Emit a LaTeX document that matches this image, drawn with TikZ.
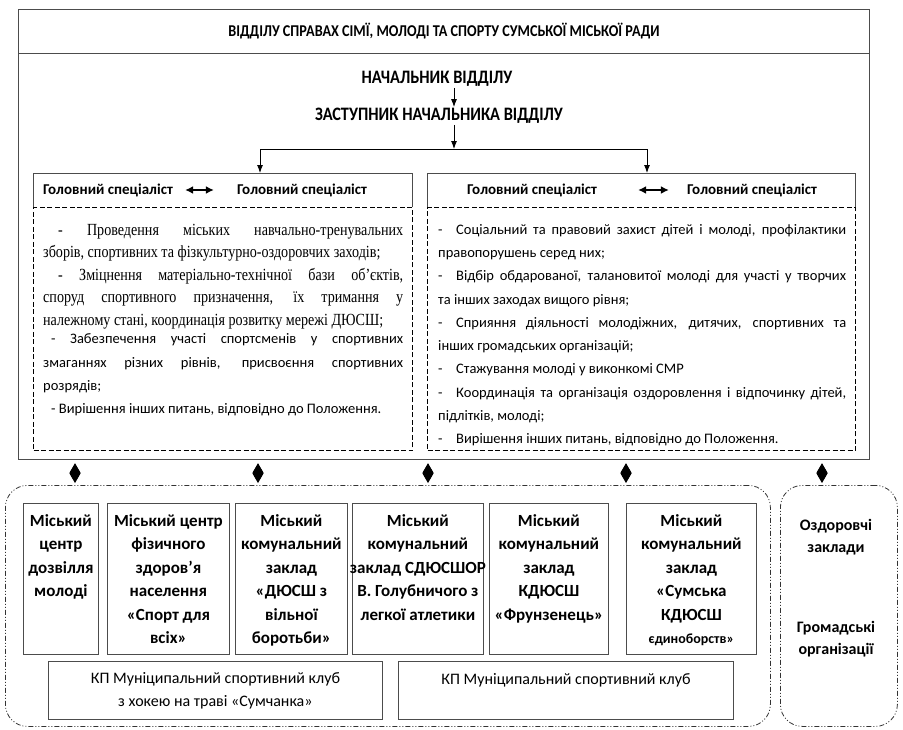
\documentclass[tikz,border=0pt]{standalone}
\usepackage{fontspec}
\setmainfont{Carlito}
\newfontfamily\tms[FakeStretch=0.83]{Liberation Serif}
\newfontfamily\calcond[FakeStretch=0.86]{Carlito}
\usetikzlibrary{positioning, arrows.meta}

\hyphenpenalty=10000
\exhyphenpenalty=10000
\newcommand{\itemdash}{\makebox[18pt][l]{-}}

\tikzset{
  box/.style={draw=black!70, line width=0.8pt, inner sep=0pt},
  dbox/.style={draw=black, line width=1pt, dash pattern=on 5pt off 2.5pt, anchor=north west, inner sep=0pt},
  ddbox/.style={draw=black!80, line width=0.8pt, dash pattern=on 5pt off 2pt on 1pt off 2pt on 1pt off 2pt,
    rounded corners=22pt, anchor=north west, inner sep=0pt},
  head/.style={font=\calcond\bfseries\fontsize{19}{22}\selectfont, inner sep=1pt},
  spec/.style={font=\bfseries\fontsize{15}{18}\selectfont, inner sep=0pt},
  unit/.style={box, anchor=north west, minimum height=151pt},
  unittext/.style={align=center, font=\bfseries\fontsize{17}{23.5}\selectfont, inner sep=0pt},
  bodytext/.style={anchor=north west, align=justify, inner sep=0pt, font=\fontsize{14.5}{23.3}\selectfont},
  dia/.style={arrows={Diamond[length=19pt,width=11pt]-Diamond[length=19pt,width=11pt]},
    line width=0.8pt, shorten <=3pt, shorten >=2pt},
  pair/.style={arrows={Latex[length=8pt,width=8pt]-Latex[length=8pt,width=8pt]}, line width=2pt},
}

\begin{document}
\begin{tikzpicture}[>={Latex[length=8pt,width=6pt]}, x=1pt, y=-1pt]
  \useasboundingbox (0,0) rectangle (903,729);

  % відділ
  \node[box, minimum width=851pt, minimum height=44pt, font=\calcond\bfseries\fontsize{16.5}{18}\selectfont]
    (title) at (444,31) {ВІДДІЛУ СПРАВАХ СІМЇ, МОЛОДІ ТА СПОРТУ СУМСЬКОЇ МІСЬКОЇ РАДИ};
  \node[box, anchor=north west, minimum width=851pt, minimum height=406pt] (dept) at (title.south west) {};

  \node[head] (chief) at (437,79) {НАЧАЛЬНИК ВІДДІЛУ};
  \node[head] (deputy) at (439,116) {ЗАСТУПНИК НАЧАЛЬНИКА ВІДДІЛУ};
  \coordinate (fork) at (454,149);
  \coordinate (forkl) at (260,149);
  \coordinate (forkr) at (647,149);
  \draw[->, line width=0.9pt] (chief.south -| fork) -- (deputy.north -| fork);
  \draw[->, line width=0.9pt] (deputy.south -| fork) -- (fork);
  \draw[line width=0.9pt] (forkl) -- (forkr);

  % ліва група
  \node[anchor=north west, minimum width=379pt, minimum height=34pt, inner sep=0pt] (lhead) at (33,173) {};
  \draw[box] (lhead.south west) |- (lhead.north east) -- (lhead.south east);
  \node[spec] (ls1) at (108,190) {Головний спеціаліст};
  \node[spec] (ls2) at (302,190) {Головний спеціаліст};
  \draw[pair] ([xshift=12pt]ls1.east) -- ([xshift=-23pt]ls2.west);
  \node[dbox, minimum width=379pt, minimum height=243pt] (lbody) at (lhead.south west) {};
  \node[bodytext, text width=360pt] (ltext) at (43,224) {%
    {\tms\fontsize{17}{22.5}\selectfont
    \hspace*{15pt}- Проведення міських навчально-тренувальних\linebreak
    зборів, спортивних та фізкультурно-оздоровчих заходів;\par
    \hspace*{15pt}- Зміцнення матеріально-технічної бази об’єктів,\linebreak
    споруд спортивного призначення, їх тримання у\linebreak
    належному стані, координація розвитку мережі ДЮСШ;\par}
    \vspace{-5pt}
    \hspace*{8pt}- Забезпечення участі спортсменів у спортивних\linebreak
    змаганнях різних рівнів, присвоєння спортивних\linebreak
    розрядів;\par
    \hspace*{8pt}- Вирішення інших питань, відповідно до Положення.};

  % права група
  \node[anchor=north west, minimum width=428pt, minimum height=34pt, inner sep=0pt] (rhead) at (427,173) {};
  \draw[box] (rhead.south west) |- (rhead.north east) -- (rhead.south east);
  \node[spec] (rs1) at (532,190) {Головний спеціаліст};
  \node[spec] (rs2) at (752,190) {Головний спеціаліст};
  \draw[pair] ([xshift=41pt]rs1.east) -- ([xshift=-18pt]rs2.west);
  \node[dbox, minimum width=428pt, minimum height=243pt] (rbody) at (rhead.south west) {};
  \node[bodytext, text width=408pt] (rtext) at (438,224) {%
    \itemdash Соціальний та правовий захист дітей і молоді, профілактики\linebreak
    правопорушень серед них;\par
    \itemdash Відбір обдарованої, талановитої молоді для участі у творчих\linebreak
    та інших заходах вищого рівня;\par
    \itemdash Сприяння діяльності молодіжних, дитячих, спортивних та\linebreak
    інших громадських організацій;\par
    \itemdash Стажування молоді у виконкомі СМР\par
    \itemdash Координація та організація оздоровлення і відпочинку дітей,\linebreak
    підлітків, молоді;\par
    \itemdash Вирішення інших питань, відповідно до Положення.};

  \draw[->, line width=0.9pt] (forkl) -- (forkl |- lhead.north);
  \draw[->, line width=0.9pt] (forkr) -- (forkr |- rhead.north);

  % підпорядковані заклади
  \node[ddbox, minimum width=765pt, minimum height=241pt] (inst) at (5,485) {};
  \node[ddbox, minimum width=117pt, minimum height=241pt] (other) at (780,485) {};
  \foreach \x in {75,258,428,626} {
    \coordinate (c) at (\x,0);
    \draw[dia] (dept.south -| c) -- (inst.north -| c);
  }
  \coordinate (c) at (822,0);
  \draw[dia] (dept.south -| c) -- (other.north -| c);

  \node[unit, minimum width=75pt] (u1) at (23,503) {};
  \node[unittext, below=11pt of u1.north] (t1) {Міський\\центр\\дозвілля\\молоді};
  \node[unit, minimum width=122pt] (u2) at (107,503) {};
  \node[unittext, below=11pt of u2.north] (t2) {Міський центр\\фізичного\\здоров’я\\населення\\«Спорт для\\всіх»};
  \node[unit, minimum width=112pt] (u3) at (235,503) {};
  \node[unittext, below=11pt of u3.north] (t3) {Міський\\комунальний\\заклад\\«ДЮСШ з\\вільної\\боротьби»};
  \node[unit, minimum width=131pt] (u4) at (352,503) {};
  \node[unittext, below=11pt of u4.north] (t4) {Міський\\комунальний\\заклад СДЮСШОР\\В. Голубничого з\\легкої атлетики};
  \node[unit, minimum width=119pt] (u5) at (489,503) {};
  \node[unittext, below=11pt of u5.north] (t5) {Міський\\комунальний\\заклад\\КДЮСШ\\«Фрунзенець»};
  \node[unit, minimum width=130pt] (u6) at (626,503) {};
  \node[unittext, below=11pt of u6.north] (t6) {Міський\\комунальний\\заклад\\«Сумська\\КДЮСШ\\{\fontsize{14}{23.5}\selectfont єдиноборств»}};

  \node[box, anchor=north west, minimum width=334pt, minimum height=58pt, align=center,
    font=\fontsize{16}{23}\selectfont] (kp1) at (48,661) {КП Муніципальний спортивний клуб\\з хокею на траві «Сумчанка»};
  \node[box, anchor=north west, minimum width=335pt, minimum height=58pt, align=center,
    font=\fontsize{16}{23}\selectfont] (kp2) at (398,661) {КП Муніципальний спортивний клуб\\\mbox{}};

  \node[unittext, font=\bfseries\fontsize{16}{21.5}\selectfont] (oz) at (836,537) {Оздоровчі\\заклади};
  \node[unittext, font=\bfseries\fontsize{16}{21.5}\selectfont] (gr) at (836,639) {Громадські\\організації};
\end{tikzpicture}
\end{document}
